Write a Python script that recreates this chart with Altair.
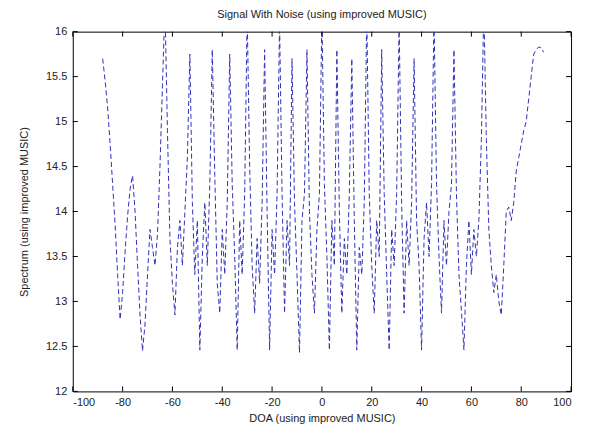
import altair as alt
import pandas as pd

# DOA angles (degrees) and spectrum values
doa = list(range(-88, 90))
spectrum = [
    # -88 .. -63
    15.70, 15.45, 15.15, 14.75, 14.30, 13.85, 13.30, 12.80, 13.10, 13.55,
    13.95, 14.25, 14.40, 14.00, 13.40, 12.85, 12.45, 12.75, 13.30, 13.80,
    13.60, 13.40, 13.75, 14.50, 15.40, 16.30,
    # -62 .. -54, peak -53
    14.90, 13.70, 13.20, 12.85, 13.60, 13.90, 13.40, 14.00, 14.60, 15.75,
    # -52 .. -45, peak -44
    14.10, 13.30, 13.90, 12.46, 13.50, 14.10, 13.40, 14.30, 15.80,
    # -43 .. -38, peak -37
    14.40, 13.20, 12.87, 13.80, 13.30, 14.10, 15.75,
    # -36 .. -31, peak -30
    14.30, 13.50, 12.46, 13.90, 13.30, 14.20, 16.20,
    # -29 .. -24, peak -23
    14.50, 13.40, 12.87, 13.70, 13.20, 14.10, 15.80,
    # -22 .. -18, peak -17
    14.00, 12.46, 13.80, 13.30, 14.20, 16.10,
    # -16 .. -13, peak -12
    14.20, 12.87, 13.90, 13.40, 15.70,
    # -11 .. -7, peak -6
    14.10, 13.30, 12.43, 13.90, 14.20, 15.80,
    # -5 .. -1, peak 0
    14.00, 13.30, 12.87, 13.80, 14.20, 16.20,
    # 1 .. 5, peak 6
    14.30, 13.50, 12.46, 13.90, 13.40, 15.80,
    # 7 .. 11, peak 12
    14.00, 12.87, 13.70, 13.30, 14.20, 15.70,
    # 13 .. 17, peak 18
    13.90, 12.46, 13.60, 13.30, 14.10, 16.20,
    # 19 .. 23, peak 24
    14.20, 13.40, 12.87, 13.90, 13.50, 15.80,
    # 25 .. 30, peak 31
    14.20, 13.30, 12.46, 13.80, 13.40, 14.20, 16.10,
    # 32 .. 36, peak 37
    14.10, 12.87, 13.90, 13.40, 14.10, 15.70,
    # 38 .. 44, peak 45
    13.90, 13.40, 12.46, 13.70, 14.10, 13.50, 14.30, 16.20,
    # 46 .. 52, peak 53
    14.30, 13.50, 12.87, 13.90, 13.40, 14.00, 14.30, 15.80,
    # 54 .. 64, peak 65
    14.20, 13.30, 12.90, 12.46, 13.40, 13.90, 13.30, 13.80, 13.50, 13.90,
    14.80, 16.30,
    # 66 .. 73
    14.80, 13.80, 13.40, 13.10, 13.30, 13.00, 12.85, 13.40,
    # 74 .. 89
    14.00, 14.05, 13.90, 14.10, 14.45, 14.60, 14.75, 14.90, 15.00, 15.25,
    15.50, 15.75, 15.80, 15.83, 15.82, 15.77,
]

x_ticks = [-100, -80, -60, -40, -20, 0, 20, 40, 60, 80, 100]
y_ticks = [12, 12.5, 13, 13.5, 14, 14.5, 15, 15.5, 16]

W, H = 500, 361
FONT = "Liberation Sans"

df = pd.DataFrame({"doa": doa, "spectrum": spectrum})
xt = pd.DataFrame({"t": x_ticks})
yt = pd.DataFrame({"t": y_ticks})

xscale = alt.Scale(domain=[-100, 100], nice=False, zero=False)
yscale = alt.Scale(domain=[12, 16], nice=False, zero=False)

line = alt.Chart(df).mark_line(
    clip=True, color="#3030b8", strokeWidth=1, strokeDash=[5, 3]
).encode(
    x=alt.X("doa:Q", scale=xscale,
            axis=alt.Axis(values=x_ticks, title="DOA (using improved MUSIC)",
                          tickSize=0, labelPadding=5, titlePadding=5,
                          domain=False, grid=False,
                          labelExpr="datum.value + ''")),
    y=alt.Y("spectrum:Q", scale=yscale,
            axis=alt.Axis(values=y_ticks, title="Spectrum (using improved MUSIC)",
                          tickSize=0, labelPadding=6, titlePadding=16,
                          domain=False, grid=False,
                          labelExpr="datum.value + ''")),
)

tick_style = dict(color="#000000", strokeWidth=1)
xb = alt.Chart(xt).mark_rule(**tick_style).encode(
    x=alt.X("t:Q", scale=xscale), y=alt.value(H), y2=alt.value(H - 5))
xtop = alt.Chart(xt).mark_rule(**tick_style).encode(
    x=alt.X("t:Q", scale=xscale), y=alt.value(0), y2=alt.value(5))
yl = alt.Chart(yt).mark_rule(**tick_style).encode(
    y=alt.Y("t:Q", scale=yscale), x=alt.value(0), x2=alt.value(5))
yr = alt.Chart(yt).mark_rule(**tick_style).encode(
    y=alt.Y("t:Q", scale=yscale), x=alt.value(W), x2=alt.value(W - 5))

chart = alt.layer(line, xb, xtop, yl, yr).properties(
    width=W, height=H,
    title=alt.TitleParams("Signal With Noise (using improved MUSIC)",
                          font=FONT, fontSize=11, fontWeight="normal",
                          color="#222222", offset=6),
    autosize=alt.AutoSizeParams(type="none"),
    padding={"left": 65, "top": 23, "right": 15, "bottom": 40},
    background="#ffffff",
).configure_view(
    stroke="#000000", strokeWidth=1
).configure_axis(
    labelFont=FONT, titleFont=FONT, labelFontSize=11, titleFontSize=11,
    labelColor="#222222", titleColor="#222222", titleFontWeight="normal",
)

chart.save("out.html", embed_options={"renderer": "svg", "actions": False})
